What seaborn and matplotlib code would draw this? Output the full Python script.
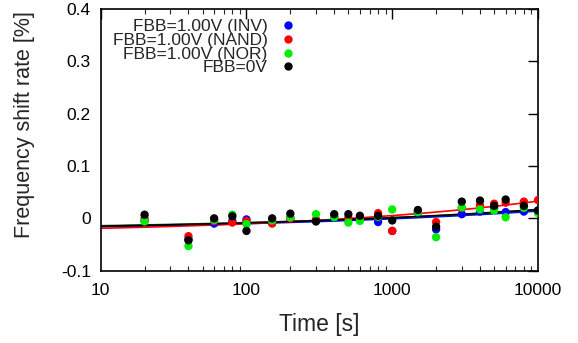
import numpy as np
import pandas as pd
import matplotlib
matplotlib.use("Agg")
import matplotlib.pyplot as plt
import seaborn as sns
from matplotlib.ticker import LogLocator, FixedLocator, NullFormatter

# stress time [s]
times = [20, 40, 60, 80, 100, 150, 200, 300, 400, 500, 600, 800,
         1000, 1500, 2000, 3000, 4000, 5000, 6000, 8000, 10000]

# frequency shift rate [%]
shift_inv = [-0.005, -0.040, -0.010, -0.005, -0.002, -0.008, 0.000, -0.004,
             0.001, -0.001, 0.000, -0.007, -0.024, 0.011, -0.021, 0.008,
             0.013, 0.020, 0.012, 0.013, 0.015]
shift_nand = [0.000, -0.034, -0.005, -0.008, -0.005, -0.010, 0.000, -0.002,
              0.003, 0.000, 0.000, 0.010, -0.024, 0.013, -0.007, 0.020,
              0.025, 0.028, 0.030, 0.032, 0.035]
shift_nor = [-0.006, -0.053, -0.003, 0.007, -0.011, -0.004, 0.002, 0.008,
             0.002, -0.008, -0.005, 0.003, 0.017, 0.012, -0.036, 0.021,
             0.017, 0.015, 0.002, 0.020, 0.010]
shift_0v = [0.007, -0.042, 0.000, 0.004, -0.024, 0.000, 0.009, -0.006,
            0.008, 0.008, 0.005, 0.005, -0.004, 0.016, -0.016, 0.032,
            0.034, 0.024, 0.036, 0.024, 0.015]

series = ["FBB=1.00V (INV)", "FBB=1.00V (NAND)", "FBB=1.00V (NOR)", "FBB=0V"]
point_colors = ["#0000ff", "#ff0000", "#00ee00", "#000000"]
line_colors = ["#0000ff", "#ff0000", "#1f5f1f", "#000000"]

# power-law fit y = a + b * t**n for each series
fit_a = [-0.0261, -0.0303, -0.0241, -0.0257]
fit_b = [0.00635, 0.00633, 0.00635, 0.00677]
fit_n = [0.2, 0.25, 0.2, 0.2]

y_ticks = [-0.1, 0, 0.1, 0.2, 0.3, 0.4]
y_tick_labels = ["-0.1", "0", "0.1", "0.2", "0.3", "0.4"]
x_ticks = [10, 100, 1000, 10000]
x_tick_labels = ["10", "100", "1000", "10000"]

df = pd.DataFrame({
    "Time": times * 4,
    "Shift": shift_inv + shift_nand + shift_nor + shift_0v,
    "Series": [s for s in series for _ in times],
})

sns.set_style("white")
plt.rcParams["font.family"] = ["Liberation Sans", "DejaVu Sans"]

fig = plt.figure(figsize=(5.78, 3.43), dpi=100)
ax = fig.add_axes([100.7 / 578, (343 - 270.7) / 343, 437.3 / 578, 261.7 / 343])

# fit lines
t_fit = np.logspace(1, 4, 200)
for k in range(4):
    ax.plot(t_fit, fit_a[k] + fit_b[k] * t_fit ** fit_n[k],
            color=line_colors[k], lw=1.2, zorder=2, label="_nolegend_")

sns.scatterplot(
    data=df, x="Time", y="Shift", hue="Series",
    hue_order=series, palette=dict(zip(series, point_colors)),
    s=36, linewidth=0, ax=ax, zorder=3, legend=True
)

ax.set_xscale("log")
ax.set_xlim(10, 10000)
ax.set_ylim(-0.1, 0.4)

ax.xaxis.set_major_locator(FixedLocator(x_ticks))
ax.set_xticklabels(x_tick_labels)
ax.xaxis.set_minor_locator(LogLocator(base=10, subs=np.arange(2, 10)))
ax.xaxis.set_minor_formatter(NullFormatter())
ax.set_yticks(y_ticks)
ax.set_yticklabels(y_tick_labels)

ax.tick_params(axis="both", which="major", direction="in", length=7, width=1,
               top=True, right=True, labelsize=12.5, colors="black")
ax.tick_params(axis="x", which="minor", direction="in", length=3.5, width=0.8,
               top=True, bottom=True)
ax.tick_params(axis="x", which="major", pad=9)
ax.tick_params(axis="y", which="major", pad=7)

for sp in ax.spines.values():
    sp.set_color("black")
    sp.set_linewidth(1.2)

ax.set_xlabel("Time [s]", fontsize=16.5)
ax.set_ylabel("Frequency shift rate [%]", fontsize=15.5)
ax.xaxis.set_label_coords(0.5, -0.16)
ax.yaxis.set_label_coords(-0.15, 0.557)

handles, labels = ax.get_legend_handles_labels()
leg = ax.legend(handles, labels, loc="upper right",
                bbox_to_anchor=((297 - 100.7) / 437.3, (270.7 - 19) / 261.7),
                frameon=False, markerfirst=False, fontsize=12.5,
                labelspacing=-0.08, handletextpad=0.7, borderpad=0,
                borderaxespad=0, markerscale=1.0, handlelength=1.0)

fig.savefig("out.png", dpi=100)
